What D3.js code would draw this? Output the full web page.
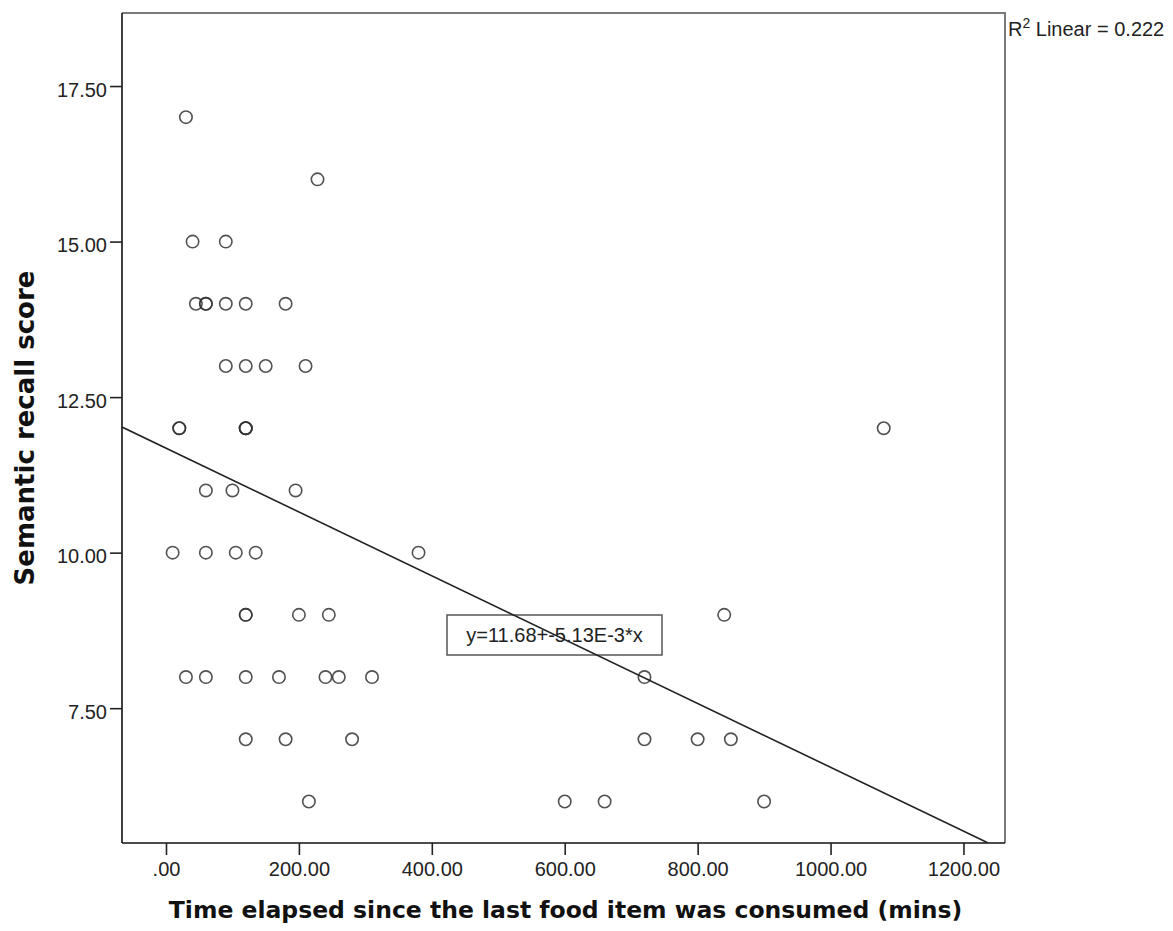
<!DOCTYPE html>
<html>
<head>
<meta charset="utf-8">
<script src="https://cdn.jsdelivr.net/npm/d3@7"></script>
<style>
  html, body { margin: 0; padding: 0; background: #ffffff; }
  svg { display: block; }
</style>
</head>
<body>
<div id="chart"></div>
<script>
// Scatter plot: recall score vs time since last food (SPSS-style)

// data
const timeMins = [30, 228, 40, 90, 45, 60, 60, 90, 120, 180, 90, 120, 150, 210,
  20, 20, 120, 120, 120, 1080, 60, 100, 195, 10, 60, 105, 135, 380,
  120, 120, 200, 245, 840, 30, 60, 120, 170, 240, 260, 310, 720,
  120, 180, 280, 720, 800, 850, 215, 600, 660, 900];
const recallScores = [17, 16, 15, 15, 14, 14, 14, 14, 14, 14, 13, 13, 13, 13,
  12, 12, 12, 12, 12, 12, 11, 11, 11, 10, 10, 10, 10, 10,
  9, 9, 9, 9, 9, 8, 8, 8, 8, 8, 8, 8, 8,
  7, 7, 7, 7, 7, 7, 6, 6, 6, 6];

const xTicks = [0, 200, 400, 600, 800, 1000, 1200];
const yTicks = [7.5, 10, 12.5, 15, 17.5];
const fitCoef = [11.68, -5.13e-3];   // intercept, slope
const rSquared = 0.222;

const xLabel = 'Time elapsed since the last food item was consumed (mins)';
const yLabel = 'Semantic recall score';
const eqLabel = 'y=11.68+-5.13E-3*x';

// layout
const W = 1173, H = 931;
const plot = { left: 122, top: 13, right: 1005, bottom: 843 };
const tickLen = 12;

const svg = d3.select('#chart').append('svg')
  .attr('width', W)
  .attr('height', H);

const x = d3.scaleLinear()
  .domain([-66.2, 1262.5])
  .range([plot.left, plot.right]);
const y = d3.scaleLinear()
  .domain([5.333, 18.674])
  .range([plot.bottom, plot.top]);

// clip for the fit line
svg.append('defs').append('clipPath').attr('id', 'plotClip')
  .append('rect')
  .attr('x', plot.left).attr('y', plot.top)
  .attr('width', plot.right - plot.left)
  .attr('height', plot.bottom - plot.top);

// frame (top and right in grey)
svg.append('path')
  .attr('d', `M${plot.left},${plot.top}H${plot.right}V${plot.bottom}`)
  .attr('fill', 'none')
  .attr('stroke', '#7a7a7a')
  .attr('stroke-width', 2);

// axes
const tickFmtX = v => v === 0 ? '.00' : v.toFixed(2);
const xAxis = svg.append('g')
  .attr('transform', `translate(0,${plot.bottom})`)
  .call(d3.axisBottom(x).tickValues(xTicks).tickFormat(tickFmtX)
    .tickSize(tickLen).tickSizeOuter(0));
const yAxis = svg.append('g')
  .attr('transform', `translate(${plot.left},0)`)
  .call(d3.axisLeft(y).tickValues(yTicks).tickFormat(d3.format('.2f'))
    .tickSize(tickLen).tickSizeOuter(0));

[xAxis, yAxis].forEach(g => {
  g.select('.domain').attr('stroke', '#111').attr('stroke-width', 1.6);
  g.selectAll('.tick line').attr('stroke', '#222').attr('stroke-width', 1.6);
  g.selectAll('.tick text')
    .attr('fill', '#222')
    .attr('font-family', '"Liberation Sans", Arial, sans-serif')
    .attr('font-size', '20px');
});
// redraw x domain across full width
xAxis.select('.domain').attr('d', `M${plot.left},0H${plot.right}`);
yAxis.select('.domain').attr('d', `M0,${plot.top}V${plot.bottom}`);
xAxis.selectAll('.tick text').attr('y', 19).attr('dy', '0.71em');
yAxis.selectAll('.tick text').attr('x', -15).attr('dy', '0.5em');

// points
svg.append('g').selectAll('circle')
  .data(timeMins.map((t, i) => [t, recallScores[i]]))
  .join('circle')
  .attr('cx', d => x(d[0]))
  .attr('cy', d => y(d[1]))
  .attr('r', 6.2)
  .attr('fill', 'none')
  .attr('stroke', '#333')
  .attr('stroke-opacity', 0.85)
  .attr('stroke-width', 1.6);

// equation box
const eqBox = { cx: 554.5, cy: 635, w: 215, h: 40 };
svg.append('rect')
  .attr('x', eqBox.cx - eqBox.w / 2)
  .attr('y', eqBox.cy - eqBox.h / 2)
  .attr('width', eqBox.w)
  .attr('height', eqBox.h)
  .attr('fill', '#fff')
  .attr('stroke', '#555')
  .attr('stroke-width', 1.5);
svg.append('text')
  .attr('x', eqBox.cx)
  .attr('y', eqBox.cy + 7)
  .attr('text-anchor', 'middle')
  .attr('font-family', '"Liberation Sans", Arial, sans-serif')
  .attr('font-size', '20px')
  .attr('fill', '#222')
  .text(eqLabel);

// fit line
const xDom = x.domain();
const fitPts = [xDom[0], (y.domain()[0] - fitCoef[0]) / fitCoef[1]];
svg.append('line')
  .attr('clip-path', 'url(#plotClip)')
  .attr('x1', x(fitPts[0])).attr('y1', y(fitCoef[0] + fitCoef[1] * fitPts[0]))
  .attr('x2', x(fitPts[1])).attr('y2', y(fitCoef[0] + fitCoef[1] * fitPts[1]))
  .attr('stroke', '#222')
  .attr('stroke-width', 1.6);

// R squared label
const rText = svg.append('text')
  .attr('x', plot.right + 3)
  .attr('y', 36)
  .attr('font-family', '"Liberation Sans", Arial, sans-serif')
  .attr('font-size', '20px')
  .attr('fill', '#222');
rText.append('tspan').text('R');
rText.append('tspan').attr('dy', -8).attr('font-size', '14px').text('2');
rText.append('tspan').attr('dy', 8).text(` Linear = ${rSquared.toFixed(3)}`);

// axis titles
svg.append('text')
  .attr('x', (plot.left + plot.right) / 2 + 2)
  .attr('y', 918)
  .attr('text-anchor', 'middle')
  .attr('font-family', '"DejaVu Sans", Verdana, sans-serif')
  .attr('font-weight', 'bold')
  .attr('font-size', '23.5px')
  .attr('fill', '#111')
  .text(xLabel);

svg.append('text')
  .attr('transform', `translate(34,${(plot.top + plot.bottom) / 2}) rotate(-90)`)
  .attr('text-anchor', 'middle')
  .attr('font-family', '"DejaVu Sans", Verdana, sans-serif')
  .attr('font-weight', 'bold')
  .attr('font-size', '26px')
  .attr('fill', '#111')
  .text(yLabel);
</script>
</body>
</html>
